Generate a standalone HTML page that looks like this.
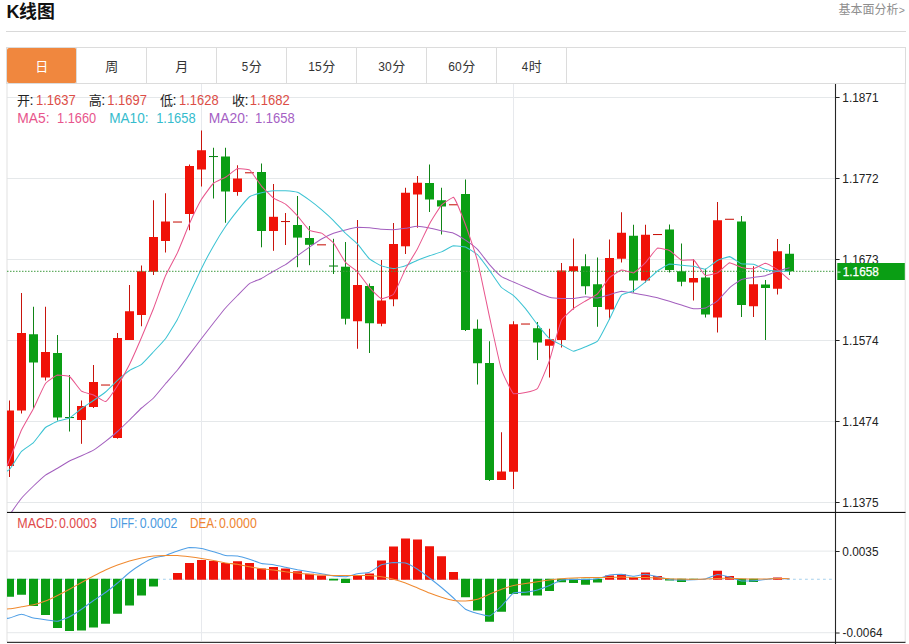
<!DOCTYPE html>
<html lang="zh-CN"><head><meta charset="utf-8"><title>K线图</title>
<style>
html,body{margin:0;padding:0;background:#fff}
body{width:909px;height:644px;overflow:hidden;font-family:"Liberation Sans","Noto Sans CJK SC",sans-serif}
svg{display:block}
text{font-family:"Liberation Sans","Noto Sans CJK SC",sans-serif}
.ax{font-size:12px;fill:#222}
.lg{font-size:14.7px}
.lg2{font-size:14.4px}
.tab{font-size:13.5px}
.ttl{font-size:18px;font-weight:bold;fill:#111}
.cj{font-size:13px}
</style></head><body>
<svg width="909" height="644" viewBox="0 0 909 644">
<rect x="7" y="97" width="829" height="1" fill="#e5e8ea"/>
<rect x="7" y="178" width="829" height="1" fill="#e5e8ea"/>
<rect x="7" y="259" width="829" height="1" fill="#e5e8ea"/>
<rect x="7" y="340" width="829" height="1" fill="#e5e8ea"/>
<rect x="7" y="421" width="829" height="1" fill="#e5e8ea"/>
<rect x="7" y="502" width="829" height="1" fill="#e5e8ea"/>
<rect x="7" y="550.6" width="829" height="1" fill="#e5e8ea"/>
<rect x="7" y="632.2" width="829" height="1" fill="#e5e8ea"/>
<rect x="201.0" y="84" width="1" height="557" fill="#e7e9ed"/>
<rect x="513.0" y="84" width="1" height="557" fill="#e7e9ed"/>
<rect x="6.5" y="84" width="1" height="558" fill="#e2e2e2"/>
<rect x="904.7" y="84" width="1" height="558" fill="#e2e2e2"/>
<defs><clipPath id="cp"><rect x="7" y="84" width="828" height="428"/></clipPath><clipPath id="cp2"><rect x="7" y="513" width="828" height="128"/></clipPath></defs>
<g clip-path="url(#cp)">
<rect x="9" y="400.5" width="1" height="76.5" fill="#c8140c"/>
<rect x="5" y="410.5" width="9" height="55.5" fill="#f01208"/>
<rect x="21" y="293" width="1" height="120.5" fill="#c8140c"/>
<rect x="17" y="333" width="9" height="77.5" fill="#f01208"/>
<rect x="33" y="306.75" width="1" height="101.75" fill="#0f8416"/>
<rect x="29" y="334.25" width="9" height="28.25" fill="#0a9e14"/>
<rect x="45" y="306.75" width="1" height="73.75" fill="#c8140c"/>
<rect x="41" y="352" width="9" height="25.5" fill="#f01208"/>
<rect x="57" y="335" width="1" height="85.5" fill="#0f8416"/>
<rect x="53" y="353" width="9" height="64.5" fill="#0a9e14"/>
<rect x="69" y="375" width="1" height="56.5" fill="#0f8416"/>
<rect x="65" y="417" width="9" height="1.05" fill="#0f8416"/>
<rect x="81" y="400.5" width="1" height="43.3" fill="#c8140c"/>
<rect x="77" y="406" width="9" height="14" fill="#f01208"/>
<rect x="93" y="365" width="1" height="43" fill="#c8140c"/>
<rect x="89" y="382" width="9" height="25" fill="#f01208"/>
<rect x="101" y="384.5" width="9" height="1.05" fill="#c8140c"/>
<rect x="117" y="333" width="1" height="105.7" fill="#c8140c"/>
<rect x="113" y="338" width="9" height="100" fill="#f01208"/>
<rect x="129" y="285" width="1" height="55" fill="#c8140c"/>
<rect x="125" y="311.25" width="9" height="28.75" fill="#f01208"/>
<rect x="141" y="265.5" width="1" height="60.75" fill="#c8140c"/>
<rect x="137" y="271.25" width="9" height="43.75" fill="#f01208"/>
<rect x="153" y="200.25" width="1" height="74.75" fill="#c8140c"/>
<rect x="149" y="237" width="9" height="34.75" fill="#f01208"/>
<rect x="165" y="193.25" width="1" height="59.25" fill="#c8140c"/>
<rect x="161" y="221.5" width="9" height="19.5" fill="#f01208"/>
<rect x="173" y="221.5" width="9" height="1.05" fill="#c8140c"/>
<rect x="189" y="164.5" width="1" height="65.75" fill="#c8140c"/>
<rect x="185" y="166" width="9" height="48" fill="#f01208"/>
<rect x="201" y="130.5" width="1" height="56" fill="#c8140c"/>
<rect x="197" y="150.25" width="9" height="19.25" fill="#f01208"/>
<rect x="213" y="147.75" width="1" height="50.75" fill="#0f8416"/>
<rect x="209" y="156" width="9" height="1.05" fill="#0f8416"/>
<rect x="225" y="147.75" width="1" height="75" fill="#0f8416"/>
<rect x="221" y="156.5" width="9" height="35" fill="#0a9e14"/>
<rect x="237" y="165.25" width="1" height="30.5" fill="#c8140c"/>
<rect x="233" y="178.5" width="9" height="13.5" fill="#f01208"/>
<rect x="245" y="172.25" width="9" height="1.05" fill="#c8140c"/>
<rect x="261" y="163.5" width="1" height="83.8" fill="#0f8416"/>
<rect x="257" y="172" width="9" height="59" fill="#0a9e14"/>
<rect x="273" y="184" width="1" height="66.8" fill="#c8140c"/>
<rect x="269" y="216.8" width="9" height="14.2" fill="#f01208"/>
<rect x="285" y="213" width="1" height="32" fill="#c8140c"/>
<rect x="281" y="221" width="9" height="1.05" fill="#c8140c"/>
<rect x="297" y="196" width="1" height="71.2" fill="#0f8416"/>
<rect x="293" y="225" width="9" height="12.6" fill="#0a9e14"/>
<rect x="309" y="226" width="1" height="39.2" fill="#0f8416"/>
<rect x="305" y="238" width="9" height="6.8" fill="#0a9e14"/>
<rect x="317" y="244.3" width="9" height="1.05" fill="#c8140c"/>
<rect x="333" y="238.8" width="1" height="35.2" fill="#0f8416"/>
<rect x="329" y="265.5" width="9" height="1.05" fill="#0f8416"/>
<rect x="345" y="242" width="1" height="82.5" fill="#0f8416"/>
<rect x="341" y="266.7" width="9" height="52.05" fill="#0a9e14"/>
<rect x="357" y="220" width="1" height="128.75" fill="#c8140c"/>
<rect x="353" y="285" width="9" height="36.25" fill="#f01208"/>
<rect x="369" y="283.5" width="1" height="69.5" fill="#0f8416"/>
<rect x="365" y="286" width="9" height="37.25" fill="#0a9e14"/>
<rect x="381" y="260" width="1" height="66.25" fill="#c8140c"/>
<rect x="377" y="300.5" width="9" height="23.25" fill="#f01208"/>
<rect x="393" y="223" width="1" height="83.25" fill="#c8140c"/>
<rect x="389" y="244" width="9" height="55.3" fill="#f01208"/>
<rect x="405" y="187.75" width="1" height="66.25" fill="#c8140c"/>
<rect x="401" y="192.75" width="9" height="53.55" fill="#f01208"/>
<rect x="417" y="176" width="1" height="51.75" fill="#c8140c"/>
<rect x="413" y="182.75" width="9" height="11.75" fill="#f01208"/>
<rect x="429" y="164.5" width="1" height="47.5" fill="#0f8416"/>
<rect x="425" y="183" width="9" height="16.5" fill="#0a9e14"/>
<rect x="441" y="187.75" width="1" height="46.75" fill="#0f8416"/>
<rect x="437" y="200.25" width="9" height="6.25" fill="#0a9e14"/>
<rect x="449" y="204.25" width="9" height="1.05" fill="#c8140c"/>
<rect x="465" y="179.5" width="1" height="151.5" fill="#0f8416"/>
<rect x="461" y="194" width="9" height="136" fill="#0a9e14"/>
<rect x="477" y="319.5" width="1" height="65" fill="#0f8416"/>
<rect x="473" y="328.75" width="9" height="34.5" fill="#0a9e14"/>
<rect x="489" y="341.25" width="1" height="139.75" fill="#0f8416"/>
<rect x="485" y="363" width="9" height="117" fill="#0a9e14"/>
<rect x="501" y="432.25" width="1" height="47.75" fill="#c8140c"/>
<rect x="497" y="471.5" width="9" height="8.5" fill="#f01208"/>
<rect x="513" y="321.25" width="1" height="167.75" fill="#c8140c"/>
<rect x="509" y="324.25" width="9" height="147.5" fill="#f01208"/>
<rect x="521" y="323.5" width="9" height="1.05" fill="#c8140c"/>
<rect x="537" y="322" width="1" height="38" fill="#0f8416"/>
<rect x="533" y="328.25" width="9" height="14.25" fill="#0a9e14"/>
<rect x="549" y="328.75" width="1" height="48.75" fill="#c8140c"/>
<rect x="545" y="339.25" width="9" height="6.5" fill="#f01208"/>
<rect x="561" y="263" width="1" height="84.5" fill="#c8140c"/>
<rect x="557" y="270.5" width="9" height="69.5" fill="#f01208"/>
<rect x="573" y="238.5" width="1" height="71" fill="#c8140c"/>
<rect x="569" y="266.25" width="9" height="5" fill="#f01208"/>
<rect x="585" y="254.25" width="1" height="40.25" fill="#0f8416"/>
<rect x="581" y="266.25" width="9" height="20" fill="#0a9e14"/>
<rect x="597" y="257.5" width="1" height="69.25" fill="#0f8416"/>
<rect x="593" y="284.25" width="9" height="22.75" fill="#0a9e14"/>
<rect x="609" y="239.5" width="1" height="80" fill="#c8140c"/>
<rect x="605" y="258" width="9" height="51.5" fill="#f01208"/>
<rect x="621" y="212.25" width="1" height="50.25" fill="#c8140c"/>
<rect x="617" y="232.75" width="9" height="26" fill="#f01208"/>
<rect x="633" y="224.75" width="1" height="67.75" fill="#0f8416"/>
<rect x="629" y="235.75" width="9" height="44.75" fill="#0a9e14"/>
<rect x="645" y="224.75" width="1" height="57.75" fill="#c8140c"/>
<rect x="641" y="234.75" width="9" height="45.75" fill="#f01208"/>
<rect x="653" y="234" width="9" height="1.05" fill="#c8140c"/>
<rect x="669" y="224.5" width="1" height="48" fill="#0f8416"/>
<rect x="665" y="229.5" width="9" height="40.5" fill="#0a9e14"/>
<rect x="681" y="243.5" width="1" height="42.75" fill="#0f8416"/>
<rect x="677" y="271.25" width="9" height="10.5" fill="#0a9e14"/>
<rect x="693" y="259.25" width="1" height="41.25" fill="#c8140c"/>
<rect x="689" y="278" width="9" height="4.5" fill="#f01208"/>
<rect x="705" y="268.75" width="1" height="48.75" fill="#0f8416"/>
<rect x="701" y="277.5" width="9" height="37" fill="#0a9e14"/>
<rect x="717" y="202" width="1" height="130.5" fill="#c8140c"/>
<rect x="713" y="220.25" width="9" height="97.25" fill="#f01208"/>
<rect x="725" y="218.75" width="9" height="1.05" fill="#c8140c"/>
<rect x="741" y="216" width="1" height="101" fill="#0f8416"/>
<rect x="737" y="221.5" width="9" height="83.5" fill="#0a9e14"/>
<rect x="753" y="266.25" width="1" height="50.75" fill="#c8140c"/>
<rect x="749" y="284.25" width="9" height="22" fill="#f01208"/>
<rect x="765" y="280" width="1" height="60" fill="#0f8416"/>
<rect x="761" y="284.5" width="9" height="3.5" fill="#0a9e14"/>
<rect x="777" y="239" width="1" height="55.5" fill="#c8140c"/>
<rect x="773" y="251.25" width="9" height="37.5" fill="#f01208"/>
<rect x="789" y="244" width="1" height="31" fill="#0f8416"/>
<rect x="785" y="253.75" width="9" height="17.5" fill="#0a9e14"/>
<line x1="7" y1="271.3" x2="834" y2="271.3" stroke="#3f9a3f" stroke-width="1" stroke-dasharray="1.5 1.5"/>
<path fill="none" stroke="#a35fbe" stroke-width="1.02" stroke-linejoin="round" d="M-2.5 533C-2.5 533 7.9 517.31 9.5 515C11.02 512.8 19.8 500.31 21.5 498.25C22.92 496.54 31.9 487.55 33.5 486C35.02 484.54 43.82 476.35 45.5 475.1C46.94 474.04 55.95 469.16 57.5 468.25C59.07 467.33 67.89 461.84 69.5 461C71.01 460.22 79.95 456.45 81.5 455.75C83.07 455.04 92.03 450.98 93.5 450.1C95.15 449.12 103.98 442.58 105.5 441.4C107.1 440.16 115.99 432.84 117.5 431.5C119.11 430.06 127.96 421.51 129.5 420C131.08 418.46 139.88 409.49 141.5 408C143 406.63 152.08 399.44 153.5 398C155.2 396.29 163.92 385.59 165.5 383.75C167.04 381.95 176 371.84 177.5 370C179.12 368.02 187.95 356.44 189.5 354.4C191.07 352.34 199.93 340.56 201.5 338.5C203.05 336.48 211.92 325 213.5 323C215.04 321.04 223.86 309.88 225.5 308C226.98 306.3 235.92 297.09 237.5 295.49C239.04 293.92 247.74 284.85 249.5 283.6C250.86 282.64 260 279.28 261.5 278.5C263.12 277.67 271.92 272.12 273.5 271.22C275.04 270.33 284.01 265.65 285.5 264.69C287.13 263.63 295.93 256.85 297.5 255.69C299.05 254.56 307.92 248.16 309.5 247.06C311.04 245.99 319.88 239.94 321.5 239C323 238.14 331.89 233.81 333.5 233.2C335.01 232.63 343.93 230.28 345.5 229.89C347.05 229.5 355.92 227.37 357.5 227.24C359.04 227.24 367.94 227.7 369.5 227.84C371.06 227.97 379.93 229.18 381.5 229.3C383.05 229.42 391.95 229.65 393.5 229.65C395.07 229.58 403.94 228.43 405.5 228.21C407.06 227.99 415.94 226.27 417.5 226.25C419.06 226.25 427.95 227.64 429.5 227.93C431.07 228.22 439.93 230.4 441.5 230.74C443.05 231.08 452.04 232.58 453.5 233.15C455.16 233.79 464.01 239.07 465.5 240.07C467.13 241.17 476.14 247.91 477.5 249.31C479.26 251.11 487.83 262.77 489.5 264.68C490.95 266.33 499.74 275.43 501.5 276.7C502.86 277.69 511.93 281.39 513.5 282.07C515.05 282.75 523.94 286.52 525.5 287.2C527.06 287.87 535.93 291.79 537.5 292.44C539.05 293.09 547.89 296.76 549.5 297.17C551.01 297.54 559.94 298.37 561.5 298.45C563.06 298.46 571.95 298.46 573.5 298.46C575.07 298.36 583.94 296.87 585.5 296.84C587.06 296.84 595.96 297.94 597.5 297.94C599.08 297.79 607.94 295.11 609.5 294.68C611.06 294.24 619.92 291.39 621.5 291.29C623.04 291.29 631.94 292.86 633.5 293.11C635.06 293.37 643.95 294.91 645.5 295.21C647.07 295.52 655.95 297.41 657.5 297.8C659.07 298.2 667.94 300.85 669.5 301.32C671.06 301.8 679.94 304.6 681.5 305.09C683.06 305.57 691.91 308.56 693.5 308.75C695.03 308.75 704.06 308.45 705.5 307.98C707.18 307.42 716.12 301.98 717.5 300.82C719.24 299.36 727.79 289.31 729.5 287.79C730.91 286.53 739.8 280.19 741.5 279.46C742.92 278.85 751.94 277.71 753.5 277.46C755.06 277.22 763.98 276.06 765.5 275.66C767.1 275.24 775.92 271.63 777.5 271.1C779.04 270.59 789.5 267.7 789.5 267.7"/>
<path fill="none" stroke="#3cc3d3" stroke-width="1.02" stroke-linejoin="round" d="M-2.5 476C-2.5 476 8.3 470.73 9.5 469.5C11.42 467.54 19.65 453.48 21.5 451.4C22.77 449.98 32.14 443.95 33.5 442.6C35.26 440.85 43.67 429.13 45.5 427.5C46.79 426.36 55.88 421.94 57.5 421.3C59 420.71 68.1 418.75 69.5 418C71.22 417.08 79.89 409.67 81.5 408.5C83.01 407.4 91.96 401.56 93.5 400.5C95.08 399.42 104.04 393.22 105.5 392C107.16 390.61 115.89 381.85 117.5 380.4C119.01 379.05 127.83 371.6 129.5 370.48C130.95 369.5 140.14 365.36 141.5 364.3C143.26 362.93 151.96 353.4 153.5 351.75C155.08 350.07 164.14 340.55 165.5 338.7C167.26 336.31 176.09 321.77 177.5 319.15C179.21 315.96 187.95 297.27 189.5 294C191.07 290.68 199.86 271.71 201.5 268.43C202.98 265.45 211.85 248.75 213.5 245.88C214.97 243.31 223.84 228.97 225.5 226.53C226.96 224.38 235.87 212.59 237.5 210.57C238.99 208.72 247.65 198.1 249.5 196.72C250.77 195.78 259.91 193.1 261.5 192.7C263.03 192.31 271.93 190.81 273.5 190.68C275.05 190.68 283.95 190.68 285.5 190.68C287.07 190.78 296.07 191.68 297.5 192.24C299.19 192.91 307.99 199.03 309.5 200.12C311.11 201.28 319.99 208.29 321.5 209.57C323.11 210.94 332 219.04 333.5 220.53C335.12 222.12 343.87 231.67 345.5 233.25C346.99 234.7 356.08 242.38 357.5 243.9C359.2 245.72 367.69 257.29 369.5 258.95C370.81 260.15 379.85 265.23 381.5 265.9C382.97 266.49 391.94 268.62 393.5 268.62C395.06 268.61 403.99 266.27 405.5 265.75C407.11 265.18 415.92 260.92 417.5 260.26C419.04 259.62 427.93 256.28 429.5 255.73C431.05 255.19 439.99 252.53 441.5 251.9C443.11 251.23 451.85 246.12 453.5 245.78C454.97 245.78 464.07 246.37 465.5 246.9C467.19 247.53 476.19 253.44 477.5 254.72C479.31 256.5 487.98 268.33 489.5 270.4C491.1 272.59 499.65 285.57 501.5 287.5C502.77 288.83 512.1 294.29 513.5 295.52C515.22 297.04 524.03 306.87 525.5 308.65C527.15 310.65 535.88 322.6 537.5 324.62C539 326.49 547.71 337.08 549.5 338.6C550.83 339.73 559.93 344.18 561.5 345C563.05 345.81 571.9 351.03 573.5 351.15C575.02 351.15 583.97 347.41 585.5 346.77C587.09 346.11 596.43 342.4 597.5 341.15C599.55 338.78 607.98 321.86 609.5 318.95C611.1 315.87 619.39 297.56 621.5 295.07C622.51 293.89 632.06 291.5 633.5 290.7C635.18 289.77 644 283.01 645.5 281.77C647.12 280.44 655.82 272.22 657.5 270.98C658.94 269.91 667.83 264.45 669.5 264.05C670.95 264.05 679.94 265.03 681.5 265.18C683.06 265.32 691.96 266.09 693.5 266.35C695.08 266.61 704.08 269.18 705.5 269.18C707.2 268.76 715.81 261.38 717.5 260.5C718.93 259.75 728.02 256.62 729.5 256.62C731.14 256.85 739.82 263.32 741.5 263.85C742.94 264.23 752.01 263.87 753.5 264.23C755.13 264.61 763.88 269.08 765.5 269.55C767 269.99 775.93 271.11 777.5 271.23C779.05 271.34 789.5 271.35 789.5 271.35"/>
<path fill="none" stroke="#e8558c" stroke-width="1.02" stroke-linejoin="round" d="M-2.5 488C-2.5 488 7.99 463.66 9.5 460C11.11 456.12 19.73 433.8 21.5 430C22.85 427.1 32.03 411.34 33.5 408.5C35.15 405.3 43.46 386.34 45.5 383.5C46.58 382 55.79 375.6 57.5 375.1C58.91 375.1 68.28 375.69 69.5 376.5C71.4 377.77 79.63 389.66 81.5 391.1C82.75 392.06 92 394.35 93.5 395C95.12 395.71 104.23 401.6 105.5 401.6C107.35 400.88 116.1 387.87 117.5 385.7C119.22 383.04 128.09 367.29 129.5 364.45C131.21 361.02 139.99 341.02 141.5 337.5C143.11 333.75 152.02 312.3 153.5 308.5C155.14 304.28 163.72 279.95 165.5 275.8C166.84 272.69 176.08 255.68 177.5 252.6C179.2 248.89 187.82 227.27 189.5 223.55C190.94 220.35 199.71 202.36 201.5 199.35C202.83 197.12 211.63 184.97 213.5 183.25C214.75 182.1 224.02 178.16 225.5 177.25C227.14 176.25 235.78 169.08 237.5 168.55C238.9 168.55 248.33 169.05 249.5 169.9C251.45 171.32 259.81 184.06 261.5 186.05C262.93 187.73 271.76 196.8 273.5 198.11C274.88 199.15 284.12 203.08 285.5 204.11C287.24 205.4 296.02 214.32 297.5 215.93C299.14 217.73 307.62 228.99 309.5 230.34C310.74 231.22 320.12 232.38 321.5 233.1C323.24 234.01 332.24 241.4 333.5 242.94C335.36 245.21 343.63 260.14 345.5 262.39C346.75 263.9 356.14 270.44 357.5 271.87C359.26 273.71 367.79 285.65 369.5 287.56C370.91 289.14 379.75 298.21 381.5 298.7C382.87 298.7 392.52 295.51 393.5 294.3C395.64 291.66 403.81 272.31 405.5 269.1C406.93 266.37 416.06 251.37 417.5 248.65C419.18 245.49 427.78 227.03 429.5 223.9C430.9 221.36 439.6 207.21 441.5 205.1C442.72 203.74 452.49 197.25 453.5 197.25C455.61 198.97 464.13 221.06 465.5 224.7C467.25 229.32 476.26 256.02 477.5 260.8C479.38 268.01 487.9 309.62 489.5 316.9C491.02 323.8 499.41 363.2 501.5 369.9C502.53 373.2 511.35 391.77 513.5 393.8C514.47 393.8 523.98 392.94 525.5 392.6C527.1 392.24 536.59 389.68 537.5 388.45C539.71 385.48 548.18 364.05 549.5 360.3C551.3 355.16 559.27 324.92 561.5 320.1C562.39 318.18 571.81 309.85 573.5 308.5C574.93 307.36 583.93 301.91 585.5 300.95C587.05 300.01 596.23 295.09 597.5 293.85C599.35 292.05 607.67 279.42 609.5 277.6C610.79 276.32 619.83 270.38 621.5 270.05C622.95 270.05 632.13 272.9 633.5 272.9C635.25 272.36 644.08 264.07 645.5 262.6C647.2 260.85 655.61 249.05 657.5 248.1C658.73 248.1 668.12 249.8 669.5 250.5C671.24 251.39 679.74 259.62 681.5 260.3C682.86 260.3 692.33 259.8 693.5 259.8C695.45 261.05 703.57 274.7 705.5 275.75C706.69 275.75 716.13 273.64 717.5 272.9C719.25 271.95 727.78 263.14 729.5 262.75C730.9 262.75 739.89 267 741.5 267.4C743.01 267.77 752.01 268.65 753.5 268.65C755.13 268.38 763.96 263.35 765.5 263.35C767.08 263.41 776.07 268.56 777.5 269.55C779.19 270.72 789.5 279.95 789.5 279.95"/>
</g>
<g clip-path="url(#cp2)">
<line x1="7" y1="579.25" x2="832" y2="579.25" stroke="#9ccbea" stroke-width="0.9" stroke-dasharray="2.8 3.2"/>
<rect x="5" y="578.75" width="9" height="18" fill="#0a9e14"/>
<rect x="17" y="578.75" width="9" height="16" fill="#0a9e14"/>
<rect x="29" y="578.75" width="9" height="27.25" fill="#0a9e14"/>
<rect x="41" y="578.75" width="9" height="36.25" fill="#0a9e14"/>
<rect x="53" y="578.75" width="9" height="49.25" fill="#0a9e14"/>
<rect x="65" y="578.75" width="9" height="52.25" fill="#0a9e14"/>
<rect x="77" y="578.75" width="9" height="51.75" fill="#0a9e14"/>
<rect x="89" y="578.75" width="9" height="48.75" fill="#0a9e14"/>
<rect x="101" y="578.75" width="9" height="45" fill="#0a9e14"/>
<rect x="113" y="578.75" width="9" height="35" fill="#0a9e14"/>
<rect x="125" y="578.75" width="9" height="26.75" fill="#0a9e14"/>
<rect x="137" y="578.75" width="9" height="16.75" fill="#0a9e14"/>
<rect x="149" y="578.75" width="9" height="7.75" fill="#0a9e14"/>
<rect x="173" y="573" width="9" height="6.75" fill="#f01208"/>
<rect x="185" y="563" width="9" height="16.75" fill="#f01208"/>
<rect x="197" y="560" width="9" height="19.75" fill="#f01208"/>
<rect x="209" y="561" width="9" height="18.75" fill="#f01208"/>
<rect x="221" y="563" width="9" height="16.75" fill="#f01208"/>
<rect x="233" y="561.25" width="9" height="18.5" fill="#f01208"/>
<rect x="245" y="563" width="9" height="16.75" fill="#f01208"/>
<rect x="257" y="568.5" width="9" height="11.25" fill="#f01208"/>
<rect x="269" y="567" width="9" height="12.75" fill="#f01208"/>
<rect x="281" y="568.5" width="9" height="11.25" fill="#f01208"/>
<rect x="293" y="571.25" width="9" height="8.5" fill="#f01208"/>
<rect x="305" y="573.75" width="9" height="6" fill="#f01208"/>
<rect x="317" y="575.5" width="9" height="4.25" fill="#f01208"/>
<rect x="329" y="578.75" width="9" height="1.75" fill="#0a9e14"/>
<rect x="341" y="578.75" width="9" height="4.25" fill="#0a9e14"/>
<rect x="353" y="575" width="9" height="4.75" fill="#f01208"/>
<rect x="365" y="573.5" width="9" height="6.25" fill="#f01208"/>
<rect x="377" y="560.5" width="9" height="19.25" fill="#f01208"/>
<rect x="389" y="546.5" width="9" height="33.25" fill="#f01208"/>
<rect x="401" y="538.5" width="9" height="41.25" fill="#f01208"/>
<rect x="413" y="539.5" width="9" height="40.25" fill="#f01208"/>
<rect x="425" y="546.25" width="9" height="33.5" fill="#f01208"/>
<rect x="437" y="556.25" width="9" height="23.5" fill="#f01208"/>
<rect x="449" y="572" width="9" height="7.75" fill="#f01208"/>
<rect x="461" y="578.75" width="9" height="18.5" fill="#0a9e14"/>
<rect x="473" y="578.75" width="9" height="31.75" fill="#0a9e14"/>
<rect x="485" y="578.75" width="9" height="43" fill="#0a9e14"/>
<rect x="497" y="578.75" width="9" height="33" fill="#0a9e14"/>
<rect x="509" y="578.75" width="9" height="15.25" fill="#0a9e14"/>
<rect x="521" y="578.75" width="9" height="16.75" fill="#0a9e14"/>
<rect x="533" y="578.75" width="9" height="16.75" fill="#0a9e14"/>
<rect x="545" y="578.75" width="9" height="12.25" fill="#0a9e14"/>
<rect x="557" y="578.75" width="9" height="3.5" fill="#0a9e14"/>
<rect x="569" y="578.75" width="9" height="4.25" fill="#0a9e14"/>
<rect x="581" y="578.75" width="9" height="6" fill="#0a9e14"/>
<rect x="593" y="578.75" width="9" height="3.75" fill="#0a9e14"/>
<rect x="605" y="575.5" width="9" height="4.25" fill="#f01208"/>
<rect x="617" y="574.25" width="9" height="5.5" fill="#f01208"/>
<rect x="629" y="577" width="9" height="2.75" fill="#f01208"/>
<rect x="641" y="572.5" width="9" height="7.25" fill="#f01208"/>
<rect x="653" y="576" width="9" height="3.75" fill="#f01208"/>
<rect x="665" y="578.75" width="9" height="1.75" fill="#0a9e14"/>
<rect x="677" y="578.75" width="9" height="3.25" fill="#0a9e14"/>
<rect x="689" y="578.75" width="9" height="1.25" fill="#0a9e14"/>
<rect x="713" y="570.75" width="9" height="9" fill="#f01208"/>
<rect x="725" y="576" width="9" height="3.75" fill="#f01208"/>
<rect x="737" y="578.75" width="9" height="6.25" fill="#0a9e14"/>
<rect x="749" y="578.75" width="9" height="3.25" fill="#0a9e14"/>
<rect x="773" y="577.5" width="9" height="2.25" fill="#f01208"/>
<path fill="none" stroke="#4f9fe6" stroke-width="1.02" stroke-linejoin="round" d="M-2.5 619.5C-2.5 619.5 7.97 618.33 9.5 618C11.09 617.65 19.94 614.25 21.5 614.25C23.06 614.25 31.91 617.64 33.5 618C35.03 618.35 43.94 619.54 45.5 619.75C47.06 619.96 55.99 621.25 57.5 621.25C59.11 621.05 68.02 617.49 69.5 616.75C71.14 615.93 79.98 610.28 81.5 609.25C83.1 608.17 91.92 601.6 93.5 600.5C95.04 599.43 103.99 593.6 105.5 592.5C107.11 591.33 115.97 584.27 117.5 583C119.09 581.67 127.87 573.77 129.5 572.5C130.99 571.34 139.88 565.23 141.5 564.25C143 563.34 151.86 558.6 153.5 558C154.98 557.46 163.97 555.94 165.5 555.5C167.09 555.03 175.92 551.53 177.5 551C179.04 550.49 187.91 547.67 189.5 547.5C191.03 547.5 199.96 548.23 201.5 548.5C203.08 548.78 211.95 551.3 213.5 551.75C215.07 552.21 223.9 555.22 225.5 555.5C227.02 555.77 235.97 555.76 237.5 556C239.09 556.25 247.96 558.77 249.5 559.25C251.08 559.74 259.9 563.13 261.5 563.5C263.02 563.85 271.95 564.51 273.5 564.75C275.07 565 283.94 566.92 285.5 567.25C287.06 567.58 295.93 569.46 297.5 569.75C299.05 570.04 307.94 571.49 309.5 571.75C311.06 572.01 319.94 573.47 321.5 573.75C323.06 574.03 331.93 575.8 333.5 576C335.05 576.19 343.96 576.75 345.5 576.75C347.08 576.6 355.92 574.05 357.5 573.75C359.04 573.46 368.06 572.79 369.5 572.25C371.18 571.62 379.83 565.43 381.5 564.75C382.95 564.16 391.93 562.61 393.5 562.5C395.05 562.5 404.03 562.59 405.5 563C407.15 563.46 416.01 568.32 417.5 569.25C419.13 570.27 427.96 576.83 429.5 578C431.08 579.2 439.97 586.23 441.5 587.5C443.09 588.83 451.96 596.61 453.5 598C455.08 599.44 463.74 608.11 465.5 609.25C466.86 610.13 475.91 613.05 477.5 613.5C479.03 613.93 488.13 616 489.5 616C491.25 615.45 500.04 607.4 501.5 606C503.16 604.41 511.64 594.06 513.5 593C514.76 592.28 523.95 592.44 525.5 592.25C527.07 592.05 535.98 590.43 537.5 590C539.1 589.55 547.96 586.14 549.5 585.5C551.08 584.84 559.87 580.41 561.5 580C562.99 579.63 571.94 579.53 573.5 579.5C575.06 579.5 583.94 579.5 585.5 579.5C587.06 579.45 595.97 579.04 597.5 578.75C599.09 578.45 607.91 575.3 609.5 575C611.03 574.71 619.95 574.25 621.5 574.25C623.07 574.33 631.94 576.25 633.5 576.25C635.06 576.25 643.95 574.25 645.5 574.25C647.07 574.28 655.94 576.41 657.5 576.75C659.06 577.09 667.92 579.29 669.5 579.5C671.04 579.71 679.94 579.98 681.5 580C683.06 580 691.94 579.81 693.5 579.75C695.06 579.68 703.99 579.33 705.5 579C707.11 578.65 715.91 574.63 717.5 574.5C719.03 574.5 727.96 576.58 729.5 577C731.08 577.43 739.9 580.75 741.5 581C743.02 581 751.94 580.85 753.5 580.75C755.06 580.65 763.94 579.66 765.5 579.5C767.06 579.34 775.94 578.28 777.5 578.25C779.06 578.25 789.5 579 789.5 579"/>
<path fill="none" stroke="#f08a30" stroke-width="1.02" stroke-linejoin="round" d="M-2.5 609.5C-2.5 609.5 7.95 608.93 9.5 608.75C11.07 608.57 19.94 607.01 21.5 606.75C23.06 606.49 31.97 605.12 33.5 604.75C35.09 604.37 43.98 601.59 45.5 601C47.1 600.38 55.96 596.25 57.5 595.5C59.08 594.73 67.95 590.09 69.5 589.25C71.07 588.4 79.93 583.37 81.5 582.5C83.05 581.64 91.93 576.82 93.5 576C95.05 575.19 103.92 570.73 105.5 570C107.04 569.3 115.92 565.59 117.5 565C119.04 564.42 127.92 561.46 129.5 561C131.04 560.55 139.93 558.33 141.5 558C143.05 557.68 151.93 556.16 153.5 556C155.05 555.84 163.94 555.53 165.5 555.5C167.06 555.5 175.94 555.5 177.5 555.5C179.06 555.58 187.94 556.56 189.5 556.75C191.06 556.95 199.94 558.26 201.5 558.5C203.06 558.74 211.95 560.21 213.5 560.5C215.07 560.79 223.93 562.75 225.5 563C227.05 563.24 235.95 564.01 237.5 564.25C239.07 564.5 247.93 566.46 249.5 566.75C251.05 567.04 259.93 568.54 261.5 568.75C263.05 568.96 271.94 569.81 273.5 570C275.06 570.2 283.94 571.55 285.5 571.75C287.06 571.94 295.94 572.84 297.5 573C299.06 573.16 307.94 574.12 309.5 574.25C311.06 574.38 319.94 574.92 321.5 575C323.06 575.08 331.94 575.47 333.5 575.5C335.06 575.5 343.94 575.5 345.5 575.5C347.06 575.5 355.94 575.5 357.5 575.5C359.06 575.5 367.94 575.5 369.5 575.5C371.06 575.58 379.95 576.51 381.5 576.75C383.07 577 391.96 578.85 393.5 579.25C395.08 579.66 403.97 582.44 405.5 583C407.09 583.58 415.94 587.35 417.5 588C419.06 588.65 427.92 592.39 429.5 593C431.04 593.59 439.92 596.76 441.5 597.25C443.04 597.73 451.91 600.25 453.5 600.5C455.03 600.74 463.95 601 465.5 601C467.07 600.92 475.99 599.67 477.5 599.25C479.11 598.8 487.94 594.9 489.5 594.25C491.06 593.6 499.91 589.83 501.5 589.25C503.03 588.69 511.91 585.88 513.5 585.5C515.03 585.13 523.94 583.74 525.5 583.5C527.06 583.26 535.94 581.98 537.5 581.75C539.06 581.52 547.94 580.2 549.5 580C551.06 579.81 559.94 578.88 561.5 578.75C563.06 578.62 571.94 578.08 573.5 578C575.06 577.92 583.94 577.53 585.5 577.5C587.06 577.5 595.94 577.5 597.5 577.5C599.06 577.5 607.94 577.5 609.5 577.5C611.06 577.47 619.94 577 621.5 577C623.06 577 631.94 577.47 633.5 577.5C635.06 577.5 643.94 577.5 645.5 577.5C647.06 577.53 655.94 577.92 657.5 578C659.06 578.08 667.94 578.68 669.5 578.75C671.06 578.81 679.94 578.97 681.5 579C683.06 579.03 691.94 579.25 693.5 579.25C695.06 579.25 703.94 579.05 705.5 579C707.06 578.95 715.94 578.55 717.5 578.5C719.06 578.45 727.94 578.25 729.5 578.25C731.06 578.27 739.94 578.7 741.5 578.75C743.06 578.8 751.94 578.98 753.5 579C755.06 579 763.94 579 765.5 579C767.06 578.97 775.94 578.52 777.5 578.5C779.06 578.5 789.5 578.75 789.5 578.75"/>
</g>
<rect x="834.95" y="84" width="1.1" height="560" fill="#262626"/>
<rect x="7" y="511.9" width="898.5" height="1.1" fill="#111"/>
<rect x="7" y="641.8" width="898.5" height="1.1" fill="#222"/>
<rect x="836" y="97" width="3.6" height="1" fill="#222"/>
<text x="842.3" y="101.6" class="ax" textLength="36.2" lengthAdjust="spacingAndGlyphs">1.1871</text>
<rect x="836" y="178" width="3.6" height="1" fill="#222"/>
<text x="842.3" y="182.6" class="ax" textLength="36.2" lengthAdjust="spacingAndGlyphs">1.1772</text>
<rect x="836" y="259" width="3.6" height="1" fill="#222"/>
<text x="842.3" y="263.6" class="ax" textLength="36.2" lengthAdjust="spacingAndGlyphs">1.1673</text>
<rect x="836" y="340" width="3.6" height="1" fill="#222"/>
<text x="842.3" y="344.6" class="ax" textLength="36.2" lengthAdjust="spacingAndGlyphs">1.1574</text>
<rect x="836" y="421" width="3.6" height="1" fill="#222"/>
<text x="842.3" y="425.6" class="ax" textLength="36.2" lengthAdjust="spacingAndGlyphs">1.1474</text>
<rect x="836" y="502" width="3.6" height="1" fill="#222"/>
<text x="842.3" y="506.6" class="ax" textLength="36.2" lengthAdjust="spacingAndGlyphs">1.1375</text>
<rect x="836" y="551" width="3.6" height="1" fill="#222"/>
<text x="842.3" y="555.6" class="ax" textLength="36.2" lengthAdjust="spacingAndGlyphs">0.0035</text>
<rect x="836" y="632.5" width="3.6" height="1" fill="#222"/>
<text x="842.6" y="637.1" class="ax" textLength="39.9" lengthAdjust="spacingAndGlyphs">-0.0064</text>
<rect x="837.3" y="263" width="67.5" height="17" fill="#0a9e14"/>
<rect x="837.5" y="271.6" width="3" height="1" fill="#f0fff0"/>
<text x="842.8" y="276.1" class="ax" style="fill:#fff;stroke:#fff;stroke-width:0.25px" textLength="36" lengthAdjust="spacingAndGlyphs">1.1658</text>
<text x="17" y="105.3" class="cj" fill="#222">开</text>
<text x="29.6" y="105" class="lg" fill="#222">:</text>
<text x="36" y="105" class="lg" fill="#dc4d46" textLength="39.8" lengthAdjust="spacingAndGlyphs">1.1637</text>
<text x="88.7" y="105.3" class="cj" fill="#222">高</text>
<text x="101.3" y="105" class="lg" fill="#222">:</text>
<text x="107.3" y="105" class="lg" fill="#dc4d46" textLength="39.6" lengthAdjust="spacingAndGlyphs">1.1697</text>
<text x="160" y="105.3" class="cj" fill="#222">低</text>
<text x="172.6" y="105" class="lg" fill="#222">:</text>
<text x="179" y="105" class="lg" fill="#dc4d46" textLength="39.6" lengthAdjust="spacingAndGlyphs">1.1628</text>
<text x="232" y="105.3" class="cj" fill="#222">收</text>
<text x="244.6" y="105" class="lg" fill="#222">:</text>
<text x="249.8" y="105" class="lg" fill="#dc4d46" textLength="40" lengthAdjust="spacingAndGlyphs">1.1682</text>
<text x="17.2" y="123" class="lg" fill="#e8558c" textLength="32.3" lengthAdjust="spacingAndGlyphs">MA5:</text>
<text x="57" y="123" class="lg" fill="#e8558c" textLength="39.2" lengthAdjust="spacingAndGlyphs">1.1660</text>
<text x="109.2" y="123" class="lg" fill="#35bccd" textLength="39.3" lengthAdjust="spacingAndGlyphs">MA10:</text>
<text x="156.2" y="123" class="lg" fill="#35bccd" textLength="39.4" lengthAdjust="spacingAndGlyphs">1.1658</text>
<text x="208.7" y="123" class="lg" fill="#a55fc4" textLength="40" lengthAdjust="spacingAndGlyphs">MA20:</text>
<text x="255" y="123" class="lg" fill="#a55fc4" textLength="39.8" lengthAdjust="spacingAndGlyphs">1.1658</text>
<text x="17.3" y="528" class="lg2" fill="#e04a4a" textLength="40.2" lengthAdjust="spacingAndGlyphs">MACD:</text>
<text x="59" y="528" class="lg2" fill="#e04a4a" textLength="37.8" lengthAdjust="spacingAndGlyphs">0.0003</text>
<text x="110" y="528" class="lg2" fill="#4a9ae0" textLength="27.3" lengthAdjust="spacingAndGlyphs">DIFF:</text>
<text x="139.7" y="528" class="lg2" fill="#4a9ae0" textLength="37.8" lengthAdjust="spacingAndGlyphs">0.0002</text>
<text x="190" y="528" class="lg2" fill="#ee8430" textLength="27.3" lengthAdjust="spacingAndGlyphs">DEA:</text>
<text x="219" y="528" class="lg2" fill="#ee8430" textLength="37.8" lengthAdjust="spacingAndGlyphs">0.0000</text>
<text x="6.5" y="17.6" class="ttl">K</text>
<text x="19" y="17.8" class="ttl" textLength="35.8" lengthAdjust="spacingAndGlyphs">线图</text>
<text x="838.6" y="14.3" style="font-size:12px;fill:#8e8e8e" textLength="60" lengthAdjust="spacingAndGlyphs">基本面分析</text>
<text x="898.7" y="13.6" style="font-size:10.5px;fill:#8e8e8e">&gt;</text>
<rect x="6" y="31" width="900" height="1" fill="#d9d9d9"/>
<rect x="6.5" y="47.5" width="899" height="36" fill="#fff" stroke="#dcdcdc" stroke-width="1"/>
<rect x="7" y="48" width="69.5" height="35" rx="2" fill="#f0873e"/>
<rect x="76.0" y="48" width="1" height="35" fill="#dcdcdc"/>
<rect x="146.0" y="48" width="1" height="35" fill="#dcdcdc"/>
<rect x="216.0" y="48" width="1" height="35" fill="#dcdcdc"/>
<rect x="286.0" y="48" width="1" height="35" fill="#dcdcdc"/>
<rect x="356.0" y="48" width="1" height="35" fill="#dcdcdc"/>
<rect x="426.0" y="48" width="1" height="35" fill="#dcdcdc"/>
<rect x="496.0" y="48" width="1" height="35" fill="#dcdcdc"/>
<rect x="566.0" y="48" width="1" height="35" fill="#dcdcdc"/>
<text x="35.25" y="70.9" class="cj" fill="#fff">日</text>
<text x="105.25" y="70.9" class="cj" fill="#333">周</text>
<text x="175.25" y="70.9" class="cj" fill="#333">月</text>
<text x="241.75" y="70.6" class="tab" fill="#333" textLength="6.4" lengthAdjust="spacingAndGlyphs">5</text>
<text x="248.75" y="70.9" class="cj" fill="#333">分</text>
<text x="308.25" y="70.6" class="tab" fill="#333" textLength="13.4" lengthAdjust="spacingAndGlyphs">15</text>
<text x="322.25" y="70.9" class="cj" fill="#333">分</text>
<text x="378.25" y="70.6" class="tab" fill="#333" textLength="13.4" lengthAdjust="spacingAndGlyphs">30</text>
<text x="392.25" y="70.9" class="cj" fill="#333">分</text>
<text x="448.25" y="70.6" class="tab" fill="#333" textLength="13.4" lengthAdjust="spacingAndGlyphs">60</text>
<text x="462.25" y="70.9" class="cj" fill="#333">分</text>
<text x="521.75" y="70.6" class="tab" fill="#333" textLength="6.4" lengthAdjust="spacingAndGlyphs">4</text>
<text x="528.75" y="70.9" class="cj" fill="#333">时</text>
</svg>
</body></html>
